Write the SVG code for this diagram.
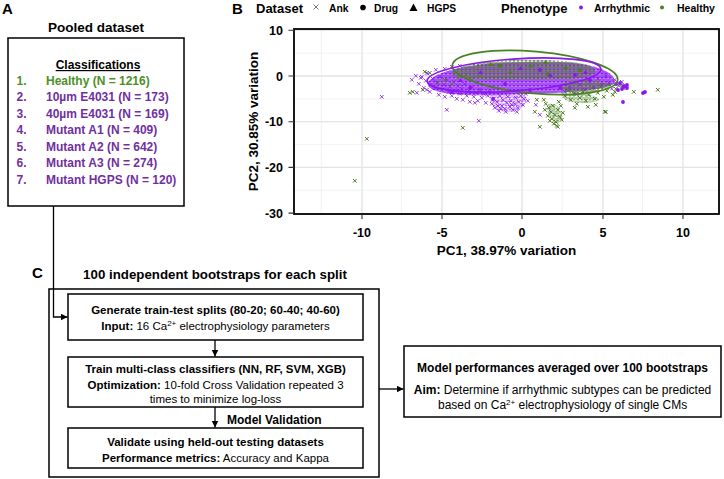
<svg xmlns="http://www.w3.org/2000/svg" width="724" height="479" viewBox="0 0 724 479">
<style>
text{font-family:"Liberation Sans",Arial,sans-serif;fill:#000}
.b{font-weight:bold}
.lbl{font-size:15px;font-weight:bold}
.box{fill:#fff;stroke:#000;stroke-width:1.5}
.con{fill:none;stroke:#000;stroke-width:1.3}
.it{font-size:12px;font-weight:bold}
.g{fill:#4e8f2a}
.p{fill:#7030a0}
.c{font-size:11.5px;text-anchor:middle}
.cs{font-size:11.5px}
.r{font-size:12px;text-anchor:middle}
.rs{font-size:12px}
.sup{font-size:8px}
.maj{stroke:#e4e4e4;stroke-width:1.3}
.min{stroke:#efefef;stroke-width:0.8}
.tk{font-size:12.5px;font-weight:bold}
.px{fill:none;stroke:#8a17f0;stroke-width:1;opacity:0.8}
.gx{fill:none;stroke:#4a7f22;stroke-width:1}
</style>
<defs>
<marker id="ah" markerWidth="8" markerHeight="8" refX="7" refY="3.5" orient="auto" markerUnits="userSpaceOnUse"><path d="M0,0L7,3.5L0,7z" fill="#000"/></marker>
<pattern id="pp" width="4" height="4" patternUnits="userSpaceOnUse"><path d="M0.5 0.5l3 3M3.5 0.5l-3 3" stroke="#8a17f0" stroke-width="1.1"/></pattern>
<pattern id="gp" width="4" height="3.5" patternUnits="userSpaceOnUse"><path d="M0.5 0.3l3 3M3.5 0.3l-3 3" stroke="#4a7f22" stroke-width="1.1"/></pattern>
<path id="pcore" d="M428 82C440 66 500 60 560 62C600 64 618 74 614 84C600 92 540 94 500 95C460 96 425 94 428 82Z"/>
</defs>
<rect width="724" height="479" fill="#fff"/>

<!-- Panel A -->
<g id="panelA">
<text class="lbl" x="2" y="13.5">A</text>
<text class="b" x="96" y="31.5" font-size="13.5" text-anchor="middle">Pooled dataset</text>
</g>
<g id="pooled">
<rect class="box" x="8" y="38" width="176" height="168"/>
<text class="b" x="98" y="69" font-size="12" text-anchor="middle" text-decoration="underline">Classifications</text>
<text class="it g" x="16.5" y="84.5">1.</text><text class="it g" x="46" y="84.5">Healthy (N = 1216)</text>
<text class="it p" x="16.5" y="101">2.</text><text class="it p" x="46" y="101">10µm E4031 (N = 173)</text>
<text class="it p" x="16.5" y="117.5">3.</text><text class="it p" x="46" y="117.5">40µm E4031 (N = 169)</text>
<text class="it p" x="16.5" y="134">4.</text><text class="it p" x="46" y="134">Mutant A1 (N = 409)</text>
<text class="it p" x="16.5" y="150.5">5.</text><text class="it p" x="46" y="150.5">Mutant A2 (N = 642)</text>
<text class="it p" x="16.5" y="167">6.</text><text class="it p" x="46" y="167">Mutant A3 (N = 274)</text>
<text class="it p" x="16.5" y="183.5">7.</text><text class="it p" x="46" y="183.5">Mutant HGPS (N = 120)</text>
</g>

<!-- Panel B -->
<g id="panelB">
<text class="lbl" x="232" y="13.5">B</text>
<text class="b" x="256" y="12.5" font-size="13">Dataset</text>
<path d="M313.5 4.5l5 5M318.5 4.5l-5 5" stroke="#777" stroke-width="1"/>
<text class="b" x="329" y="12" font-size="10.3">Ank</text>
<circle cx="363" cy="7.5" r="2.8" fill="#000"/>
<text class="b" x="374" y="12" font-size="10.3">Drug</text>
<path d="M409.5 11L413.5 3.5L417.5 11z" fill="#000"/>
<text class="b" x="427" y="12" font-size="10.3">HGPS</text>
<text class="b" x="501" y="12.5" font-size="13">Phenotype</text>
<circle cx="581" cy="7.5" r="2" fill="#8a17f0"/>
<text class="b" x="594" y="12" font-size="10.5">Arrhythmic</text>
<circle cx="662" cy="7.5" r="2" fill="#4a7f22"/>
<text class="b" x="677" y="12" font-size="10.5">Healthy</text>

<rect x="294" y="29" width="425" height="185" fill="#fff"/>
<path class="min" d="M321.3 29V214M401.6 29V214M481.9 29V214M562.2 29V214M642.5 29V214M294 53.2H719M294 98.9H719M294 144.6H719M294 190.3H719"/>
<path class="maj" d="M362 29V214M442 29V214M522 29V214M603 29V214M683 29V214M294 30.3H719M294 76H719M294 121.7H719M294 167.4H719"/>

<!-- data -->
<use href="#pcore" fill="#8a17f0" opacity="0.55"/>
<use href="#pcore" fill="url(#pp)"/>
<path d="M490 93C500 92 520 92 526 96C528 103 522 110 512 112C500 113 492 108 490 100Z" fill="url(#pp)" opacity="0.6"/>
<path d="M455 70C470 58 560 57 588 65C603 71 594 79 562 79C520 80 480 81 462 78C450 76 449 73 455 70Z" fill="url(#gp)"/>
<path d="M565 82C580 78 605 80 612 86C606 92 585 94 568 92C560 90 558 85 565 82Z" fill="url(#gp)"/>
<path d="M560 92C575 90 595 94 600 100C592 104 575 104 565 100Z" fill="url(#gp)" opacity="0.7"/>
<path d="M548 104C553 102 560 106 562 114C562 122 557 126 553 122C548 116 546 110 548 104Z" fill="url(#gp)" opacity="0.7"/>

<path class="px" d="M410 78l3.6 3.6m0-3.6l-3.6 3.6M414 74l3.6 3.6m0-3.6l-3.6 3.6M417 82l3.6 3.6m0-3.6l-3.6 3.6M419 76l3.6 3.6m0-3.6l-3.6 3.6M422 86l3.6 3.6m0-3.6l-3.6 3.6M424 79l3.6 3.6m0-3.6l-3.6 3.6M426 72l3.6 3.6m0-3.6l-3.6 3.6M428 90l3.6 3.6m0-3.6l-3.6 3.6M429 83l3.6 3.6m0-3.6l-3.6 3.6M431 77l3.6 3.6m0-3.6l-3.6 3.6M433 86l3.6 3.6m0-3.6l-3.6 3.6M435 81l3.6 3.6m0-3.6l-3.6 3.6M437 93l3.6 3.6m0-3.6l-3.6 3.6M438 75l3.6 3.6m0-3.6l-3.6 3.6M440 88l3.6 3.6m0-3.6l-3.6 3.6M442 83l3.6 3.6m0-3.6l-3.6 3.6M443 95l3.6 3.6m0-3.6l-3.6 3.6M445 78l3.6 3.6m0-3.6l-3.6 3.6M447 90l3.6 3.6m0-3.6l-3.6 3.6M448 85l3.6 3.6m0-3.6l-3.6 3.6M450 94l3.6 3.6m0-3.6l-3.6 3.6M452 80l3.6 3.6m0-3.6l-3.6 3.6M453 89l3.6 3.6m0-3.6l-3.6 3.6M455 97l3.6 3.6m0-3.6l-3.6 3.6M456 84l3.6 3.6m0-3.6l-3.6 3.6M458 92l3.6 3.6m0-3.6l-3.6 3.6M460 87l3.6 3.6m0-3.6l-3.6 3.6M461 98l3.6 3.6m0-3.6l-3.6 3.6M463 82l3.6 3.6m0-3.6l-3.6 3.6M465 94l3.6 3.6m0-3.6l-3.6 3.6M467 89l3.6 3.6m0-3.6l-3.6 3.6M468 100l3.6 3.6m0-3.6l-3.6 3.6M470 85l3.6 3.6m0-3.6l-3.6 3.6M472 95l3.6 3.6m0-3.6l-3.6 3.6M474 91l3.6 3.6m0-3.6l-3.6 3.6M476 99l3.6 3.6m0-3.6l-3.6 3.6M478 88l3.6 3.6m0-3.6l-3.6 3.6M480 96l3.6 3.6m0-3.6l-3.6 3.6M482 92l3.6 3.6m0-3.6l-3.6 3.6M484 101l3.6 3.6m0-3.6l-3.6 3.6M486 94l3.6 3.6m0-3.6l-3.6 3.6M488 90l3.6 3.6m0-3.6l-3.6 3.6M490 102l3.6 3.6m0-3.6l-3.6 3.6M492 97l3.6 3.6m0-3.6l-3.6 3.6M493 106l3.6 3.6m0-3.6l-3.6 3.6M495 100l3.6 3.6m0-3.6l-3.6 3.6M497 109l3.6 3.6m0-3.6l-3.6 3.6M498 94l3.6 3.6m0-3.6l-3.6 3.6M500 104l3.6 3.6m0-3.6l-3.6 3.6M501 98l3.6 3.6m0-3.6l-3.6 3.6M503 107l3.6 3.6m0-3.6l-3.6 3.6M505 101l3.6 3.6m0-3.6l-3.6 3.6M506 95l3.6 3.6m0-3.6l-3.6 3.6M508 105l3.6 3.6m0-3.6l-3.6 3.6M509 99l3.6 3.6m0-3.6l-3.6 3.6M511 108l3.6 3.6m0-3.6l-3.6 3.6M513 102l3.6 3.6m0-3.6l-3.6 3.6M514 96l3.6 3.6m0-3.6l-3.6 3.6M516 106l3.6 3.6m0-3.6l-3.6 3.6M517 100l3.6 3.6m0-3.6l-3.6 3.6M519 94l3.6 3.6m0-3.6l-3.6 3.6M521 103l3.6 3.6m0-3.6l-3.6 3.6M522 97l3.6 3.6m0-3.6l-3.6 3.6M524 92l3.6 3.6m0-3.6l-3.6 3.6M526 99l3.6 3.6m0-3.6l-3.6 3.6M496 104l3.6 3.6m0-3.6l-3.6 3.6M504 110l3.6 3.6m0-3.6l-3.6 3.6M510 103l3.6 3.6m0-3.6l-3.6 3.6M515 110l3.6 3.6m0-3.6l-3.6 3.6M499 107l3.6 3.6m0-3.6l-3.6 3.6M563 90l3.6 3.6m0-3.6l-3.6 3.6M568 86l3.6 3.6m0-3.6l-3.6 3.6M574 92l3.6 3.6m0-3.6l-3.6 3.6M578 83l3.6 3.6m0-3.6l-3.6 3.6M583 88l3.6 3.6m0-3.6l-3.6 3.6M588 80l3.6 3.6m0-3.6l-3.6 3.6M592 86l3.6 3.6m0-3.6l-3.6 3.6M596 77l3.6 3.6m0-3.6l-3.6 3.6M600 83l3.6 3.6m0-3.6l-3.6 3.6M604 74l3.6 3.6m0-3.6l-3.6 3.6M607 81l3.6 3.6m0-3.6l-3.6 3.6M610 87l3.6 3.6m0-3.6l-3.6 3.6M613 78l3.6 3.6m0-3.6l-3.6 3.6M617 84l3.6 3.6m0-3.6l-3.6 3.6M620 80l3.6 3.6m0-3.6l-3.6 3.6M622 86l3.6 3.6m0-3.6l-3.6 3.6M380 95l3.6 3.6m0-3.6l-3.6 3.6M415 91l3.6 3.6m0-3.6l-3.6 3.6M425 88l3.6 3.6m0-3.6l-3.6 3.6M445 108l3.6 3.6m0-3.6l-3.6 3.6M473 101l3.6 3.6m0-3.6l-3.6 3.6M477 119l3.6 3.6m0-3.6l-3.6 3.6M538 113l3.6 3.6m0-3.6l-3.6 3.6M534 103l3.6 3.6m0-3.6l-3.6 3.6M420 75l3.6 3.6m0-3.6l-3.6 3.6M425 71l3.6 3.6m0-3.6l-3.6 3.6M434 68l3.6 3.6m0-3.6l-3.6 3.6M443 67l3.6 3.6m0-3.6l-3.6 3.6M450 65l3.6 3.6m0-3.6l-3.6 3.6M458 64l3.6 3.6m0-3.6l-3.6 3.6"/>

<path class="gx" d="M544 102l3.6 3.6m0-3.6l-3.6 3.6M547 106l3.6 3.6m0-3.6l-3.6 3.6M549 110l3.6 3.6m0-3.6l-3.6 3.6M551 104l3.6 3.6m0-3.6l-3.6 3.6M553 113l3.6 3.6m0-3.6l-3.6 3.6M550 117l3.6 3.6m0-3.6l-3.6 3.6M554 120l3.6 3.6m0-3.6l-3.6 3.6M556 108l3.6 3.6m0-3.6l-3.6 3.6M558 115l3.6 3.6m0-3.6l-3.6 3.6M555 124l3.6 3.6m0-3.6l-3.6 3.6M552 122l3.6 3.6m0-3.6l-3.6 3.6M559 104l3.6 3.6m0-3.6l-3.6 3.6M561 111l3.6 3.6m0-3.6l-3.6 3.6M546 114l3.6 3.6m0-3.6l-3.6 3.6M548 119l3.6 3.6m0-3.6l-3.6 3.6M557 100l3.6 3.6m0-3.6l-3.6 3.6M560 118l3.6 3.6m0-3.6l-3.6 3.6M543 108l3.6 3.6m0-3.6l-3.6 3.6M542 98l3.6 3.6m0-3.6l-3.6 3.6M563 94l3.6 3.6m0-3.6l-3.6 3.6M566 88l3.6 3.6m0-3.6l-3.6 3.6M569 98l3.6 3.6m0-3.6l-3.6 3.6M572 92l3.6 3.6m0-3.6l-3.6 3.6M575 102l3.6 3.6m0-3.6l-3.6 3.6M578 96l3.6 3.6m0-3.6l-3.6 3.6M581 90l3.6 3.6m0-3.6l-3.6 3.6M584 99l3.6 3.6m0-3.6l-3.6 3.6M587 93l3.6 3.6m0-3.6l-3.6 3.6M590 86l3.6 3.6m0-3.6l-3.6 3.6M593 97l3.6 3.6m0-3.6l-3.6 3.6M596 91l3.6 3.6m0-3.6l-3.6 3.6M599 85l3.6 3.6m0-3.6l-3.6 3.6M602 95l3.6 3.6m0-3.6l-3.6 3.6M605 89l3.6 3.6m0-3.6l-3.6 3.6M608 83l3.6 3.6m0-3.6l-3.6 3.6M611 93l3.6 3.6m0-3.6l-3.6 3.6M614 87l3.6 3.6m0-3.6l-3.6 3.6M617 82l3.6 3.6m0-3.6l-3.6 3.6M604 110l3.6 3.6m0-3.6l-3.6 3.6M586 105l3.6 3.6m0-3.6l-3.6 3.6M573 106l3.6 3.6m0-3.6l-3.6 3.6M594 103l3.6 3.6m0-3.6l-3.6 3.6M535 98l3.6 3.6m0-3.6l-3.6 3.6M533 110l3.6 3.6m0-3.6l-3.6 3.6M538 125l3.6 3.6m0-3.6l-3.6 3.6M556 125l3.6 3.6m0-3.6l-3.6 3.6M603 110l3.6 3.6m0-3.6l-3.6 3.6M632 90l3.6 3.6m0-3.6l-3.6 3.6M656 88l3.6 3.6m0-3.6l-3.6 3.6M613 90l3.6 3.6m0-3.6l-3.6 3.6M620 83l3.6 3.6m0-3.6l-3.6 3.6M621 86l3.6 3.6m0-3.6l-3.6 3.6M365 137l3.6 3.6m0-3.6l-3.6 3.6M353 179l3.6 3.6m0-3.6l-3.6 3.6M461 126l3.6 3.6m0-3.6l-3.6 3.6M423 70l3.6 3.6m0-3.6l-3.6 3.6M428 71l3.6 3.6m0-3.6l-3.6 3.6M436 81l3.6 3.6m0-3.6l-3.6 3.6M411 90l3.6 3.6m0-3.6l-3.6 3.6M408 91l3.6 3.6m0-3.6l-3.6 3.6M421 88l3.6 3.6m0-3.6l-3.6 3.6M443 78l3.6 3.6m0-3.6l-3.6 3.6M450 82l3.6 3.6m0-3.6l-3.6 3.6M456 76l3.6 3.6m0-3.6l-3.6 3.6M464 73l3.6 3.6m0-3.6l-3.6 3.6M470 78l3.6 3.6m0-3.6l-3.6 3.6M478 74l3.6 3.6m0-3.6l-3.6 3.6"/>

<path d="M493 99h0M623 102h0M627 85h0M620 83h0M643 93h0M645 92h0M616 84h0M624 86h0M627 88h0M622 89h0M618 90h0M452 92h0M470 88h0M530 90h0M560 88h0M590 80h0M505 84h0M540 70h0M575 75h0" stroke="#8a17f0" stroke-width="3.8" stroke-linecap="round" fill="none"/>
<path d="M580 70h0M500 66h0M548 74h0" stroke="#4a7f22" stroke-width="3.8" stroke-linecap="round" fill="none"/>
<path d="M478 74l2.5-4l2.5 4zM518 70l2.5-4l2.5 4zM548 77l2.5-4l2.5 4zM583 74l2.5-4l2.5 4zM458 82l2.5-4l2.5 4z" fill="#8a17f0"/>
<path d="M488 66l2.5-4l2.5 4zM528 67l2.5-4l2.5 4zM563 69l2.5-4l2.5 4zM508 74l2.5-4l2.5 4zM543 64l2.5-4l2.5 4z" fill="#4a7f22"/>

<ellipse cx="535" cy="72.5" rx="83" ry="21" transform="rotate(5 535 72.5)" fill="none" stroke="#4a7f22" stroke-width="1.7"/>
<ellipse cx="514" cy="75" rx="87" ry="16" transform="rotate(-4 514 75)" fill="none" stroke="#8a17f0" stroke-width="1.7"/>

<rect x="294" y="29" width="425" height="185" fill="none" stroke="#000" stroke-width="1.8"/>
<path d="M288.5 30.3H294M288.5 76H294M288.5 121.7H294M288.5 167.4H294M288.5 213.1H294M362 214V219M442 214V219M522 214V219M603 214V219M683 214V219" stroke="#333" stroke-width="1.1"/>
<g class="tk" text-anchor="end">
<text x="283" y="35">10</text><text x="283" y="80.5">0</text><text x="283" y="126.2">-10</text><text x="283" y="172">-20</text><text x="283" y="217.6">-30</text>
</g>
<g class="tk" text-anchor="middle">
<text x="362" y="237">-10</text><text x="442" y="237">-5</text><text x="522" y="237">0</text><text x="603" y="237">5</text><text x="683" y="237">10</text>
</g>
<text class="b" x="506.5" y="255" font-size="13.5" text-anchor="middle">PC1, 38.97% variation</text>
<text class="b" font-size="13.5" text-anchor="middle" transform="translate(258 121.5) rotate(-90)">PC2, 30.85% variation</text>
</g>

<!-- Panel C -->
<g id="panelC">
<text class="lbl" x="32" y="278">C</text>
<text class="b" x="215" y="279" font-size="13.3" text-anchor="middle">100 independent bootstraps for each split</text>
<rect x="49" y="289" width="330" height="188" fill="none" stroke="#000" stroke-width="1.5"/>
</g>
<g id="split">
<rect class="box" x="68" y="294" width="295" height="46"/>
<text class="c b" x="215.5" y="314">Generate train-test splits (80-20; 60-40; 40-60)</text>
<text class="cs" x="101.3" y="330"><tspan class="b">Input:</tspan> 16 Ca<tspan class="sup" baseline-shift="super">2+</tspan> electrophysiology parameters</text>
</g>
<g id="train">
<rect class="box" x="68" y="357" width="295" height="50"/>
<text class="c b" x="215.5" y="373">Train multi-class classifiers (NN, RF, SVM, XGB)</text>
<text class="c" x="215.5" y="389"><tspan class="b">Optimization:</tspan> 10-fold Cross Validation repeated 3</text>
<text class="c" x="215.5" y="402.5">times to minimize log-loss</text>
</g>
<g id="validate">
<rect class="box" x="68" y="428" width="295" height="40"/>
<text class="c b" x="215.5" y="445.5">Validate using held-out testing datasets</text>
<text class="c" x="215.5" y="462"><tspan class="b">Performance metrics:</tspan> Accuracy and Kappa</text>
</g>
<g id="result">
<rect class="box" x="404" y="346" width="317" height="71"/>
<text class="r b" x="562.5" y="372">Model performances averaged over 100 bootstraps</text>
<text class="r" x="562.5" y="394"><tspan class="b">Aim:</tspan> Determine if arrhythmic subtypes can be predicted</text>
<text class="rs" x="438" y="409">based on Ca<tspan class="sup" baseline-shift="super">2+</tspan> electrophysiology of single CMs</text>
</g>

<g id="connectors">
<path class="con" d="M53.5 206V317H67.5" marker-end="url(#ah)"/>
<path class="con" d="M215 340V356.5" marker-end="url(#ah)"/>
<path class="con" d="M215 407V427.5" marker-end="url(#ah)"/>
<path class="con" d="M379 389H403.5" marker-end="url(#ah)"/>
<text class="b" x="227" y="423.5" font-size="12">Model Validation</text>
</g>
</svg>
